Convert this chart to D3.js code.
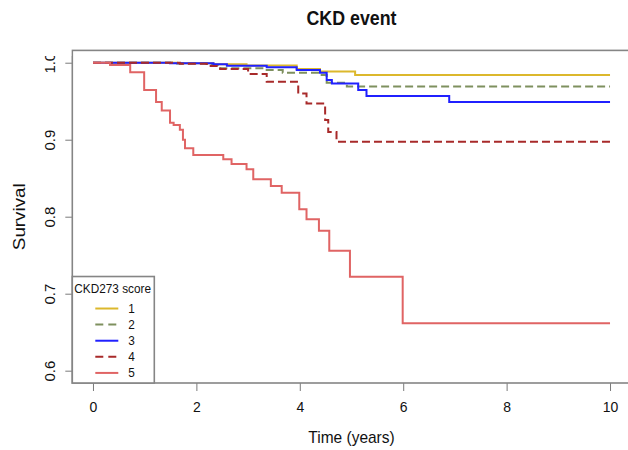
<!DOCTYPE html>
<html>
<head>
<meta charset="utf-8">
<script src="https://cdn.jsdelivr.net/npm/d3@7"></script>
<style>
  body { margin: 0; background: #fff; }
  text { font-family: "Liberation Sans", Arial, sans-serif; fill: #111; }
</style>
</head>
<body>
<div id="chart"></div>
<script>
// CKD273 score groups
const groups = ["1", "2", "3", "4", "5"];
const colors = ["#DCB82C", "#7E905E", "#2020FF", "#A82A2A", "#E06464"];
const dashed = [false, true, false, true, false];

// Kaplan-Meier steps (time in years, survival)
const time1 = [0, 1.62, 2.33, 2.97, 3.94, 4.39, 5.07, 10];
const surv1 = [1, 0.9992, 0.998, 0.9963, 0.992, 0.9885, 0.984, 0.984];

const time2 = [0, 1.55, 2.20, 2.46, 3.36, 3.67, 4.39, 4.52, 4.91, 10];
const surv2 = [1, 0.999, 0.997, 0.9927, 0.9905, 0.987, 0.984, 0.974, 0.969, 0.969];

const time3 = [0, 1.49, 2.33, 2.59, 3.36, 3.94, 4.39, 4.52, 4.62, 5.13, 5.29, 6.89, 10];
const surv3 = [1, 0.9992, 0.998, 0.996, 0.994, 0.9905, 0.987, 0.9775, 0.973, 0.9645, 0.9567, 0.949, 0.949];

const time4 = [0, 1.68, 2.20, 2.46, 3.00, 3.36, 3.97, 4.13, 4.49, 4.55, 4.71, 10];
const surv4 = [1, 0.9985, 0.9957, 0.9918, 0.9853, 0.9753, 0.960, 0.947, 0.9256, 0.910, 0.8974, 0.8974];

const time5 = [0, 0.33, 0.72, 0.99, 1.22, 1.33, 1.49, 1.56, 1.68, 1.74, 1.78, 1.94,
  2.52, 2.68, 2.97, 3.10, 3.44, 3.65, 3.99, 4.13, 4.37, 4.57, 4.97, 5.99, 10];
const surv5 = [1, 0.997, 0.9875, 0.9645, 0.949, 0.938, 0.922, 0.919, 0.913, 0.900, 0.889, 0.880,
  0.8745, 0.8684, 0.8616, 0.8486, 0.840, 0.8312, 0.8096, 0.7966, 0.7818, 0.7558, 0.7221, 0.6616, 0.6616];

const xTicks = [0, 2, 4, 6, 8, 10];
const yTicks = [0.6, 0.7, 0.8, 0.9, 1.0];

const times = [time1, time2, time3, time4, time5];
const survs = [surv1, surv2, surv3, surv4, surv5];

const W = 628, H = 450;
const margin = { top: 50.4, right: -2.7, bottom: 67, left: 72.3 };
const width = W - margin.left - margin.right;
const height = H - margin.top - margin.bottom;

const svg = d3.select("#chart")
  .append("svg")
  .attr("width", W)
  .attr("height", H);

const g = svg.append("g")
  .attr("transform", `translate(${margin.left},${margin.top})`);

// R style: 4% padding around the data range
const x = d3.scaleLinear().domain([-0.4, 10.4]).range([0, width]);
const y = d3.scaleLinear().domain([0.584, 1.016]).range([height, 0]);

const line = d3.line()
  .x(d => x(d[0]))
  .y(d => y(d[1]))
  .curve(d3.curveStepAfter);

groups.forEach((grp, i) => {
  const pts = times[i].map((t, j) => [t, survs[i][j]]);
  g.append("path")
    .datum(pts)
    .attr("fill", "none")
    .attr("stroke", colors[i])
    .attr("stroke-width", 2)
    .attr("stroke-dasharray", dashed[i] ? "8,4" : null)
    .attr("d", line);
});

// axes
const xAxis = g.append("g")
  .attr("transform", `translate(0,${height})`)
  .call(d3.axisBottom(x).tickValues(xTicks).tickSize(8).tickFormat(d3.format("d")));
xAxis.select(".domain").remove();
xAxis.selectAll("line").attr("stroke", "#7a7a7a");
xAxis.selectAll("text")
  .attr("y", null).attr("dy", null)
  .attr("transform", "translate(0,29) scale(1,1.1)")
  .style("font-size", "14px")
  .style("font-family", "'Liberation Sans', Arial, sans-serif")
  .style("fill", "#111");

const yAxis = g.append("g")
  .call(d3.axisLeft(y).tickValues(yTicks).tickSize(7).tickFormat(d3.format(".1f")));
yAxis.select(".domain").remove();
yAxis.selectAll("line").attr("stroke", "#7a7a7a");
yAxis.selectAll("text")
  .attr("x", null).attr("dy", null)
  .attr("text-anchor", "middle")
  .attr("transform", "translate(-17,0) rotate(-90) scale(1.07,1)")
  .style("font-size", "14px")
  .style("font-family", "'Liberation Sans', Arial, sans-serif")
  .style("fill", "#111");

// the top of the "1.0" label is cut off in the original picture
svg.append("rect")
  .attr("x", 0).attr("y", 0)
  .attr("width", margin.left - 1).attr("height", 56)
  .attr("fill", "#fff");

// plot box
g.append("rect")
  .attr("width", width)
  .attr("height", height)
  .attr("fill", "none")
  .attr("stroke", "#858585")
  .attr("stroke-width", 1.6);

// titles
svg.append("text")
  .attr("transform", `translate(${margin.left + (x(10.4) - x(-0.4)) / 2},24.5) scale(1,1.1)`)
  .attr("text-anchor", "middle")
  .style("font-size", "17.8px")
  .style("font-weight", "bold")
  .text("CKD event");

svg.append("text")
  .attr("transform", `translate(${margin.left + width / 2},443) scale(1,1.08)`)
  .attr("text-anchor", "middle")
  .style("font-size", "15.5px")
  .text("Time (years)");

svg.append("text")
  .attr("transform", `translate(25,${margin.top + height / 2}) rotate(-90) scale(1.14,1)`)
  .attr("text-anchor", "middle")
  .style("font-size", "16.5px")
  .text("Survival");

// legend
const legend = g.append("g")
  .attr("transform", `translate(0,${y(0.7223) })`);
const legendH = height - y(0.7223);

legend.append("rect")
  .attr("width", 82)
  .attr("height", legendH)
  .attr("fill", "#fff")
  .attr("stroke", "#858585")
  .attr("stroke-width", 1.6);

legend.append("text")
  .attr("transform", "translate(2,16) scale(1,1.1)")
  .style("font-size", "11.8px")
  .text("CKD273 score");

groups.forEach((grp, i) => {
  const ly = 32 + i * 16.1;
  legend.append("line")
    .attr("x1", 23).attr("x2", 46)
    .attr("y1", ly).attr("y2", ly)
    .attr("stroke", colors[i])
    .attr("stroke-width", 2)
    .attr("stroke-dasharray", dashed[i] ? "8,5" : null);
  legend.append("text")
    .attr("transform", `translate(56,${ly + 4.3}) scale(1,1.1)`)
    .style("font-size", "11.8px")
    .text(grp);
});
</script>
</body>
</html>
